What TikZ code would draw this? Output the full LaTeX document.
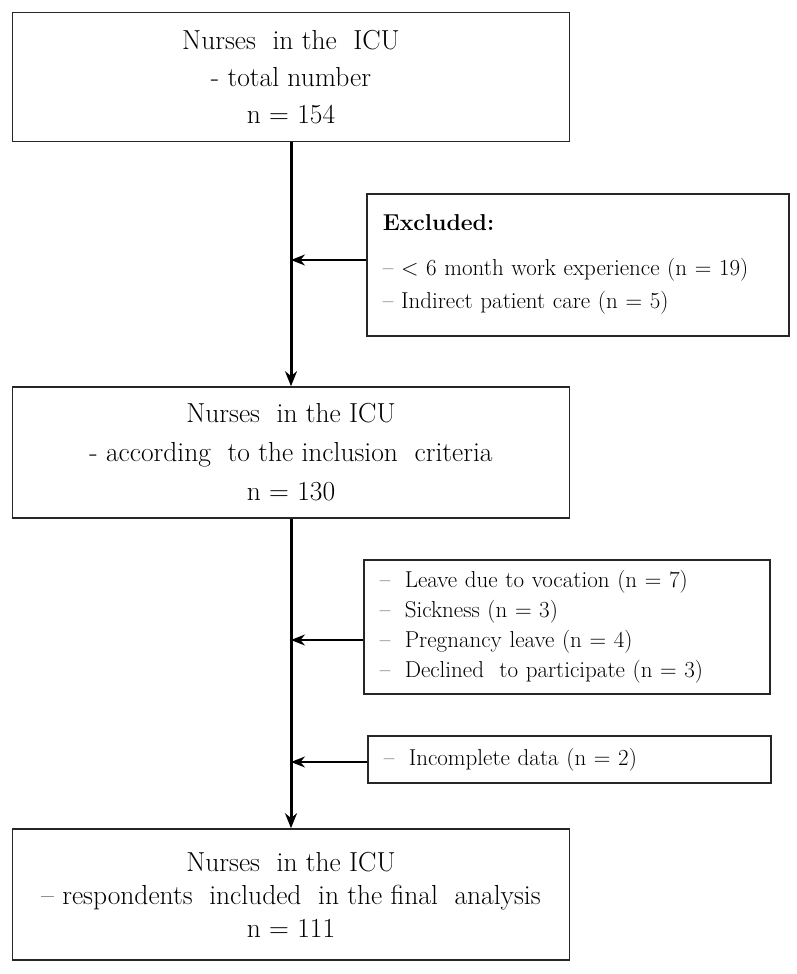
\documentclass[tikz,border=0pt]{standalone}
\usetikzlibrary{positioning,arrows.meta}
\tikzset{
  mainbox/.style={draw=black!85, line width=1.6pt, minimum width=557pt, align=center},
  sidebox/.style={draw=black!85, line width=1.6pt, align=left, anchor=north west, inner xsep=16pt, inner ysep=0pt},
  trunk/.style={line width=3pt, -{Stealth[length=15pt,width=12pt]}},
  feed/.style={line width=1.5pt, -{Stealth[length=14pt,width=11pt]}}
}
\newcommand{\bigtxt}{\fontsize{27.5}{37}\selectfont}
\newcommand{\smalltxt}{\fontsize{23}{33}\selectfont}
\newcommand{\itm}{\makebox[25pt][l]{--}}
\begin{document}
\begin{tikzpicture}[x=1pt,y=-1pt]
  \useasboundingbox (0,0) rectangle (796,974);
  % main column
  \node[mainbox, minimum height=129pt, font=\bigtxt] (total) at (291,77)
    {Nurses\ \ in the\ \ ICU\\- total number\\n = 154};
  \node[mainbox, minimum height=131pt, font=\fontsize{27.5}{39}\selectfont] (incl) at (291,452.5)
    {Nurses\ \ in the ICU\\- according\ \ to the inclusion\ \ criteria\\n = 130};
  \node[mainbox, minimum height=131pt, font=\fontsize{27.5}{33}\selectfont] (final) at (291,894.5)
    {Nurses\ \ in the ICU\\-- respondents\ \ included\ \ in the final\ \ analysis\\n = 111};
  % side boxes
  \node[sidebox, text width=390pt, minimum height=142pt, font=\smalltxt] (excl) at (366,193)
    {\textbf{Excluded:}\\[12pt]-- < 6 month work experience (n = 19)\\-- Indirect patient care (n = 5)};
  \node[sidebox, text width=374pt, minimum height=134pt, font=\fontsize{23}{29.7}\selectfont] (leave) at (363,559)
    {\itm Leave due to vocation (n = 7)\\\itm Sickness (n = 3)\\\itm Pregnancy leave (n = 4)\\\itm Declined\ \ to participate (n = 3)};
  \node[sidebox, text width=371pt, minimum height=47pt, font=\smalltxt] (incomplete) at (367,735)
    {\itm Incomplete data (n = 2)};
  % joints on the trunk
  \coordinate (j1) at (291,260);
  \coordinate (j2) at (291,640);
  \coordinate (j3) at (291,762);
  \draw[trunk] (total.south) -- (incl.north);
  \draw[trunk] (incl.south) -- (final.north);
  \draw[feed] (j1 -| excl.west) -- (j1);
  \draw[feed] (j2 -| leave.west) -- (j2);
  \draw[feed] (j3 -| incomplete.west) -- (j3);
\end{tikzpicture}
\end{document}
